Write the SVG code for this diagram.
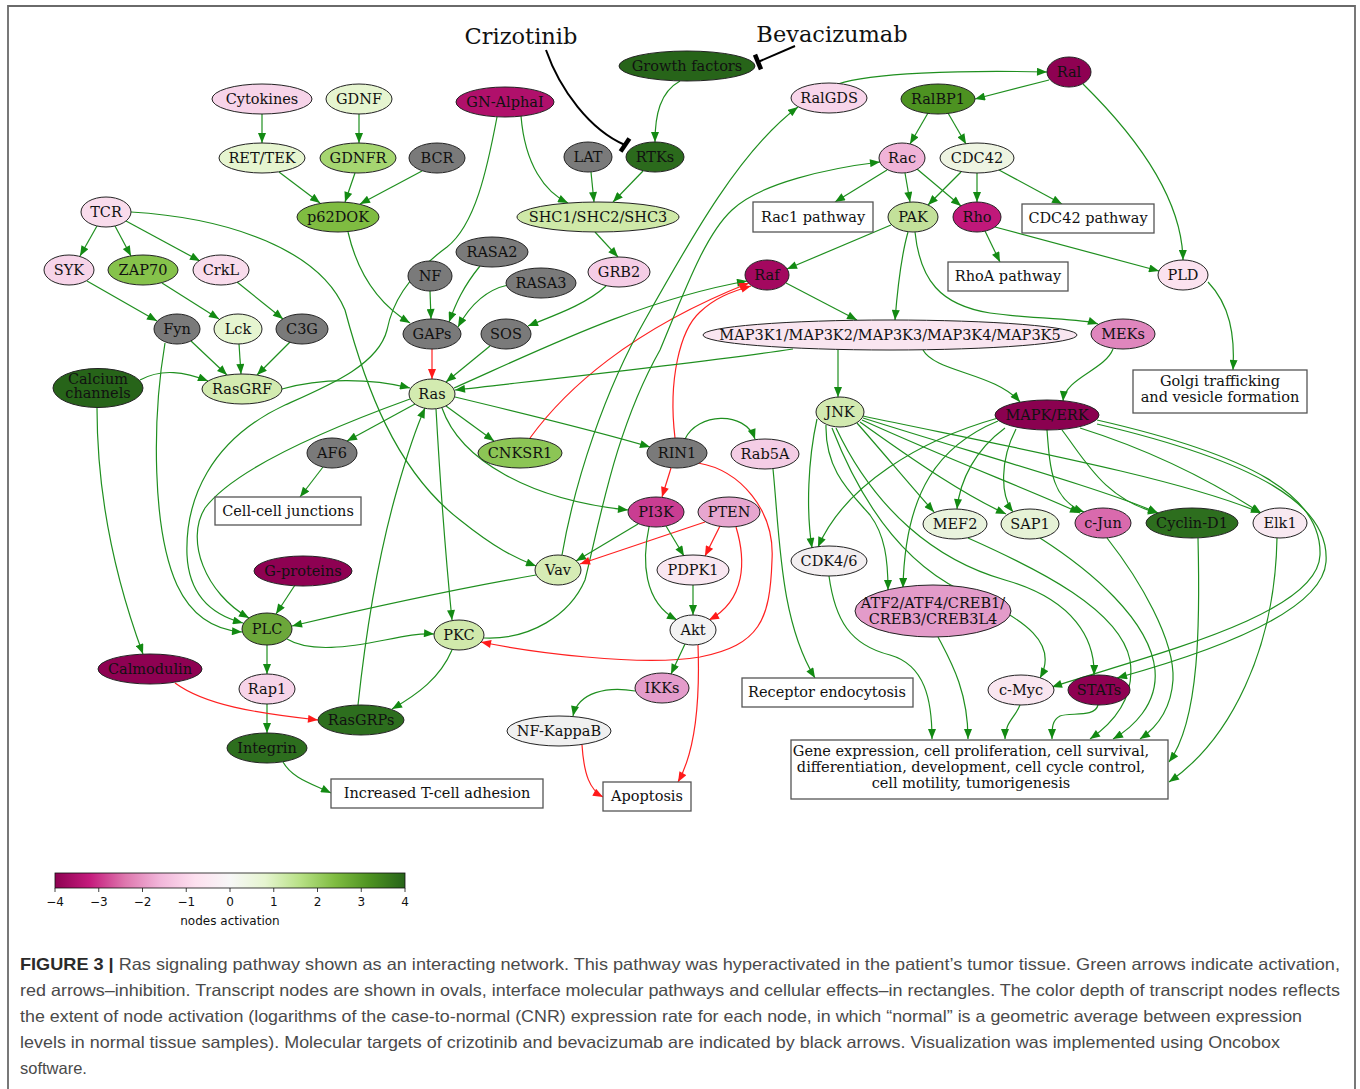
<svg xmlns="http://www.w3.org/2000/svg" width="1360" height="1089" viewBox="0 0 1360 1089">
<defs>
<marker id="ag" viewBox="0 0 10 8" refX="10" refY="4" markerWidth="11" markerHeight="8" markerUnits="userSpaceOnUse" orient="auto"><path d="M0,0 L10,4 L0,8 z" fill="#138a13"/></marker>
<marker id="ar" viewBox="0 0 10 8" refX="10" refY="4" markerWidth="11" markerHeight="8" markerUnits="userSpaceOnUse" orient="auto"><path d="M0,0 L10,4 L0,8 z" fill="#ff1a1a"/></marker>
<linearGradient id="piyg" x1="0" y1="0" x2="1" y2="0">
<stop offset="0" stop-color="#8e0152"/><stop offset="0.1" stop-color="#c51b7d"/><stop offset="0.2" stop-color="#de77ae"/><stop offset="0.3" stop-color="#f1b6da"/><stop offset="0.4" stop-color="#fde0ef"/><stop offset="0.5" stop-color="#f7f7f7"/><stop offset="0.6" stop-color="#e6f5d0"/><stop offset="0.7" stop-color="#b8e186"/><stop offset="0.8" stop-color="#7fbc41"/><stop offset="0.9" stop-color="#4d9221"/><stop offset="1" stop-color="#276419"/>
</linearGradient>
</defs>
<style>
.n ellipse{stroke:#222;stroke-width:1}
.n text,.b text{font-family:"DejaVu Serif",serif;font-size:14.5px;text-anchor:middle;fill:#111}
.b rect{fill:#fff;stroke:#555;stroke-width:1.3}
.g{fill:none;stroke:#1f8f1f;stroke-width:1.2;marker-end:url(#ag)}
.r{fill:none;stroke:#ff2020;stroke-width:1.2;marker-end:url(#ar)}
.k{fill:none;stroke:#000;stroke-width:2}
.kb{stroke:#000;stroke-width:4.5}
.drug{font-family:"DejaVu Serif",serif;font-size:22.5px;text-anchor:middle;fill:#111}
.cap{font-family:"Liberation Sans",Arial,sans-serif;font-size:16.5px;fill:#4a4a4a}
.tick{font-family:"DejaVu Sans",sans-serif;font-size:12px;text-anchor:middle;fill:#111}
</style>
<rect width="1360" height="1089" fill="#fff"/>
<path d="M8 1089 L8 6 L1355 6 L1355 1089" fill="none" stroke="#6a6a6a" stroke-width="1.8"/>

<g id="connectors">
<path class="g" d="M262 114 L262 143"/>
<path class="g" d="M359 114 L359 143"/>
<path class="g" d="M279 172 L320 203"/>
<path class="g" d="M355 173 L345 202"/>
<path class="g" d="M422 171 L360 204"/>
<path class="g" d="M680 81 C660 92 655 115 655 142"/>
<path class="g" d="M521 116 C525 165 545 192 568 203"/>
<path class="g" d="M591 172 L594 202"/>
<path class="g" d="M643 171 L613 202"/>
<path class="g" d="M595 232 L618 257"/>
<path class="g" d="M606 286 C585 305 555 315 528 326"/>
<path class="g" d="M497 117 C487 170 475 225 447 247 C405 278 392 305 387 330 C378 365 330 385 285 405 C210 440 185 500 187 555 C189 595 212 615 243 623"/>
<path class="g" d="M410 399 C330 428 235 468 205 508 C185 540 205 593 249 618"/>
<path class="g" d="M165 343 C152 420 152 530 177 585 C192 617 215 630 242 632"/>
<path class="g" d="M295 585 L276 614"/>
<path class="g" d="M536 575 C450 590 360 610 292 626"/>
<path class="g" d="M287 639 C310 653 350 647 385 640 C405 636 420 633 434 634"/>
<path class="g" d="M267 645 L267 674"/>
<path class="g" d="M267 704 L267 733"/>
<path class="r" d="M175 683 C205 705 255 713 318 720"/>
<path class="g" d="M97 408 C97 490 112 570 143 654"/>
<path class="g" d="M140 380 C162 368 185 372 208 381"/>
<path class="g" d="M191 341 L227 375"/>
<path class="g" d="M239 344 L241 374"/>
<path class="g" d="M290 342 L257 375"/>
<path class="g" d="M87 281 L157 321"/>
<path class="g" d="M162 283 L219 319"/>
<path class="g" d="M237 282 L283 319"/>
<path class="g" d="M97 226 L80 256"/>
<path class="g" d="M115 226 L131 256"/>
<path class="g" d="M126 221 L200 261"/>
<path class="g" d="M131 212 C230 218 320 250 345 310 C365 385 395 470 460 520 C495 548 515 558 536 566"/>
<path class="g" d="M282 389 C320 378 370 378 410 388"/>
<path class="r" d="M432 349 L432 379"/>
<path class="g" d="M430 291 L431 319"/>
<path class="g" d="M480 266 C463 287 456 303 449 322"/>
<path class="g" d="M508 285 C485 290 470 305 458 327"/>
<path class="g" d="M348 232 C358 275 380 305 410 323"/>
<path class="g" d="M490 346 L446 382"/>
<path class="g" d="M415 404 L347 441"/>
<path class="g" d="M446 406 L494 441"/>
<path class="g" d="M455 397 C530 415 600 432 650 447"/>
<path class="g" d="M442 408 C460 460 530 500 628 510"/>
<path class="g" d="M436 409 C440 480 446 560 452 620"/>
<path class="g" d="M358 705 C365 640 377 560 397 490 C407 455 416 428 425 408"/>
<path class="g" d="M452 650 C440 678 418 694 392 709"/>
<path class="g" d="M454 388 C540 350 640 300 747 281"/>
<path class="r" d="M530 438 C565 390 630 330 749 283"/>
<path class="r" d="M675 438 C668 380 680 330 700 312 C715 298 730 292 751 286"/>
<path class="g" d="M562 555 C575 480 605 390 645 320 C690 240 740 150 798 107"/>
<path class="g" d="M484 638 C530 640 570 615 585 580 C600 520 615 430 660 350 C685 290 705 235 732 210 C760 183 830 168 880 162"/>
<path class="g" d="M793 349 C700 363 560 378 455 390"/>
<path class="g" d="M786 283 L857 320"/>
<path class="g" d="M908 232 C900 260 897 295 895 320"/>
<path class="g" d="M891 225 L787 269"/>
<path class="g" d="M915 232 C920 280 940 305 990 313 C1040 320 1080 318 1098 324"/>
<path class="g" d="M838 350 L838 397"/>
<path class="g" d="M923 350 C935 372 995 373 1020 402"/>
<path class="g" d="M1113 349 C1105 370 1065 378 1063 401"/>
<path class="g" d="M1083 84 C1140 140 1182 200 1183 260"/>
<path class="g" d="M838 84 C870 73 960 70 1047 72"/>
<path class="g" d="M1049 80 L975 99"/>
<path class="g" d="M928 113 L910 144"/>
<path class="g" d="M948 113 L966 144"/>
<path class="g" d="M887 170 L835 202"/>
<path class="g" d="M905 173 L910 202"/>
<path class="g" d="M917 169 L961 206"/>
<path class="g" d="M961 172 L928 205"/>
<path class="g" d="M977 173 L977 202"/>
<path class="g" d="M999 170 L1062 204"/>
<path class="g" d="M985 231 L1000 262"/>
<path class="g" d="M995 227 L1159 271"/>
<path class="g" d="M1208 282 C1230 305 1235 335 1233 370"/>
<path class="r" d="M671 468 L662 497"/>
<path class="g" d="M685 439 C697 413 745 410 755 439"/>
<path class="r" d="M698 463 C740 470 775 510 772 560 C770 620 760 645 700 657 C640 667 530 652 481 642"/>
<path class="g" d="M773 469 C780 540 780 620 815 678"/>
<path class="g" d="M638 524 L576 561"/>
<path class="r" d="M705 522 L580 564"/>
<path class="g" d="M666 526 L684 556"/>
<path class="r" d="M720 526 L705 556"/>
<path class="g" d="M649 527 C642 560 643 602 677 620"/>
<path class="r" d="M736 527 C746 560 746 600 709 620"/>
<path class="g" d="M693 585 L693 615"/>
<path class="g" d="M685 644 L671 674"/>
<path class="r" d="M698 645 C700 700 695 752 678 782"/>
<path class="g" d="M635 691 C608 686 578 692 573 716"/>
<path class="r" d="M582 745 C584 775 590 790 603 797"/>
<path class="g" d="M283 762 C292 778 310 783 331 793"/>
<path class="g" d="M323 467 L300 497"/>
<path class="g" d="M817 419 C808 460 806 510 812 548"/>
<path class="g" d="M998 418 C920 440 845 485 818 547"/>
<path class="g" d="M826 425 C825 470 850 492 870 515 C885 535 888 560 888 590"/>
<path class="g" d="M998 421 C940 445 905 490 903 588"/>
<path class="g" d="M857 423 C885 455 910 485 934 512"/>
<path class="g" d="M1005 428 C975 450 960 480 957 509"/>
<path class="g" d="M860 422 C920 465 965 495 1006 514"/>
<path class="g" d="M1016 429 C1000 460 1000 495 1013 512"/>
<path class="g" d="M862 420 C950 460 1030 490 1080 513"/>
<path class="g" d="M1047 430 C1050 470 1052 500 1084 512"/>
<path class="g" d="M863 418 C980 455 1100 488 1158 513"/>
<path class="g" d="M1062 430 C1085 460 1105 500 1158 513"/>
<path class="g" d="M863 416 C1000 445 1180 478 1261 513"/>
<path class="g" d="M1080 428 C1150 450 1210 480 1261 513"/>
<path class="g" d="M1097 420 C1250 455 1322 495 1320 555 C1318 615 1150 655 1052 687"/>
<path class="g" d="M1097 424 C1258 462 1330 505 1326 562 C1322 615 1200 655 1117 678"/>
<path class="g" d="M832 428 C860 500 900 560 960 590 C1030 620 1058 645 1040 678"/>
<path class="g" d="M836 428 C875 510 935 560 1005 580 C1075 600 1095 640 1094 675"/>
<path class="g" d="M829 576 C835 620 850 645 890 655 C925 665 932 700 932 739"/>
<path class="g" d="M938 637 C950 660 968 690 968 739"/>
<path class="g" d="M1020 705 C1015 718 1005 722 1005 739"/>
<path class="g" d="M1098 705 C1095 718 1070 712 1060 716 C1052 720 1052 728 1052 739"/>
<path class="g" d="M968 538 C1040 570 1120 610 1130 660 C1136 700 1110 725 1090 739"/>
<path class="g" d="M1040 538 C1090 570 1150 620 1155 670 C1158 705 1132 728 1113 739"/>
<path class="g" d="M1107 538 C1140 580 1175 640 1173 680 C1171 710 1156 728 1140 739"/>
<path class="g" d="M1198 538 C1200 620 1200 720 1169 762"/>
<path class="g" d="M1277 538 C1275 650 1230 740 1169 782"/>
<path class="k" d="M546 50 C560 90 590 130 625 145"/>
<line class="kb" x1="629.4" y1="138.4" x2="620.6" y2="151.6"/>
<path class="k" d="M795 46 L758 62"/>
<line class="kb" x1="761" y1="69.4" x2="755" y2="54.6"/>
</g>

<g id="drugs">
<text class="drug" x="521" y="44">Crizotinib</text>
<text class="drug" x="832" y="42">Bevacizumab</text>
</g>

<g id="n-cytokines" class="n"><ellipse cx="262" cy="99" rx="50" ry="15" fill="#f7d4e9"/><text x="262" y="104">Cytokines</text></g>
<g id="n-gdnf" class="n"><ellipse cx="359" cy="99" rx="33" ry="15" fill="#e6f5d0"/><text x="359" y="104">GDNF</text></g>
<g id="n-rettek" class="n"><ellipse cx="262" cy="158" rx="43" ry="15" fill="#e6f5d0"/><text x="262" y="163">RET/TEK</text></g>
<g id="n-gdnfr" class="n"><ellipse cx="358" cy="158" rx="38" ry="15" fill="#a6d671"/><text x="358" y="163">GDNFR</text></g>
<g id="n-bcr" class="n"><ellipse cx="437" cy="158" rx="28" ry="15" fill="#7a7a7a"/><text x="437" y="163">BCR</text></g>
<g id="n-p62dok" class="n"><ellipse cx="338" cy="217" rx="41" ry="15" fill="#7fbc41"/><text x="338" y="222">p62DOK</text></g>
<g id="n-tcr" class="n"><ellipse cx="106" cy="212" rx="25" ry="15" fill="#f9dcec"/><text x="106" y="217">TCR</text></g>
<g id="n-syk" class="n"><ellipse cx="69" cy="270" rx="25" ry="15" fill="#f7d4e9"/><text x="69" y="275">SYK</text></g>
<g id="n-zap70" class="n"><ellipse cx="143" cy="270" rx="35" ry="15" fill="#86c24b"/><text x="143" y="275">ZAP70</text></g>
<g id="n-crkl" class="n"><ellipse cx="221" cy="270" rx="28" ry="15" fill="#f9dcec"/><text x="221" y="275">CrkL</text></g>
<g id="n-fyn" class="n"><ellipse cx="177" cy="329" rx="23" ry="15" fill="#7a7a7a"/><text x="177" y="334">Fyn</text></g>
<g id="n-lck" class="n"><ellipse cx="238" cy="329" rx="24" ry="15" fill="#e6f5d0"/><text x="238" y="334">Lck</text></g>
<g id="n-c3g" class="n"><ellipse cx="302" cy="329" rx="26" ry="15" fill="#7a7a7a"/><text x="302" y="334">C3G</text></g>
<g id="n-calcium" class="n"><ellipse cx="98" cy="388" rx="45" ry="19.5" fill="#276419"/><text x="98" y="384">Calcium</text><text x="98" y="398">channels</text></g>
<g id="n-rasgrf" class="n"><ellipse cx="242" cy="389" rx="40" ry="15" fill="#d3ebb0"/><text x="242" y="394">RasGRF</text></g>
<g id="n-nf" class="n"><ellipse cx="430" cy="276" rx="22" ry="15" fill="#7a7a7a"/><text x="430" y="281">NF</text></g>
<g id="n-gaps" class="n"><ellipse cx="432" cy="334" rx="29" ry="15" fill="#7a7a7a"/><text x="432" y="339">GAPs</text></g>
<g id="n-ras" class="n"><ellipse cx="432" cy="394" rx="23" ry="15" fill="#d3ebb0"/><text x="432" y="399">Ras</text></g>
<g id="n-af6" class="n"><ellipse cx="332" cy="453" rx="25" ry="15" fill="#7a7a7a"/><text x="332" y="458">AF6</text></g>
<g id="n-ccj" class="b"><rect x="215" y="497" width="146" height="28"/><text x="288" y="516">Cell-cell junctions</text></g>
<g id="n-gproteins" class="n"><ellipse cx="303" cy="571" rx="49" ry="15" fill="#8e0152"/><text x="303" y="576">G-proteins</text></g>
<g id="n-gnalphai" class="n"><ellipse cx="505" cy="102" rx="49" ry="15" fill="#b0106b"/><text x="505" y="107">GN-AlphaI</text></g>
<g id="n-growth" class="n"><ellipse cx="687" cy="66" rx="68" ry="15" fill="#276419"/><text x="687" y="71">Growth factors</text></g>
<g id="n-lat" class="n"><ellipse cx="588" cy="157" rx="24" ry="15" fill="#7a7a7a"/><text x="588" y="162">LAT</text></g>
<g id="n-rtks" class="n"><ellipse cx="655" cy="157" rx="29" ry="15" fill="#2b6a1c"/><text x="655" y="162">RTKs</text></g>
<g id="n-shc" class="n"><ellipse cx="598" cy="217" rx="81" ry="15" fill="#cfe9a8"/><text x="598" y="222">SHC1/SHC2/SHC3</text></g>
<g id="n-rasa2" class="n"><ellipse cx="492" cy="252" rx="36" ry="15" fill="#7a7a7a"/><text x="492" y="257">RASA2</text></g>
<g id="n-rasa3" class="n"><ellipse cx="541" cy="283" rx="35" ry="15" fill="#7a7a7a"/><text x="541" y="288">RASA3</text></g>
<g id="n-grb2" class="n"><ellipse cx="619" cy="272" rx="31" ry="15" fill="#f5cde6"/><text x="619" y="277">GRB2</text></g>
<g id="n-sos" class="n"><ellipse cx="506" cy="334" rx="25" ry="15" fill="#7a7a7a"/><text x="506" y="339">SOS</text></g>
<g id="n-ralgds" class="n"><ellipse cx="829" cy="98" rx="38" ry="15" fill="#f8d5ea"/><text x="829" y="103">RalGDS</text></g>
<g id="n-rac1path" class="b"><rect x="753" y="202" width="120" height="30"/><text x="813" y="222">Rac1 pathway</text></g>
<g id="n-raf" class="n"><ellipse cx="767" cy="275" rx="22" ry="15" fill="#a3085f"/><text x="767" y="280">Raf</text></g>
<g id="n-ral" class="n"><ellipse cx="1069" cy="72" rx="22" ry="15" fill="#8e0152"/><text x="1069" y="77">Ral</text></g>
<g id="n-ralbp1" class="n"><ellipse cx="938" cy="99" rx="37" ry="15" fill="#4d9221"/><text x="938" y="104">RalBP1</text></g>
<g id="n-rac" class="n"><ellipse cx="902" cy="158" rx="23" ry="15" fill="#f0b3d8"/><text x="902" y="163">Rac</text></g>
<g id="n-cdc42" class="n"><ellipse cx="977" cy="158" rx="37" ry="15" fill="#eef4e2"/><text x="977" y="163">CDC42</text></g>
<g id="n-pak" class="n"><ellipse cx="913" cy="217" rx="25" ry="15" fill="#c3e19a"/><text x="913" y="222">PAK</text></g>
<g id="n-rho" class="n"><ellipse cx="977" cy="217" rx="24" ry="15" fill="#c0187a"/><text x="977" y="222">Rho</text></g>
<g id="n-cdc42path" class="b"><rect x="1022" y="204" width="132" height="29"/><text x="1088" y="223">CDC42 pathway</text></g>
<g id="n-rhoapath" class="b"><rect x="948" y="262" width="120" height="29"/><text x="1008" y="281">RhoA pathway</text></g>
<g id="n-pld" class="n"><ellipse cx="1183" cy="275" rx="25" ry="15" fill="#fbe2ef"/><text x="1183" y="280">PLD</text></g>
<g id="n-map3k" class="n"><ellipse cx="890" cy="335" rx="187" ry="15" fill="#f9e5f0"/><text x="890" y="340">MAP3K1/MAP3K2/MAP3K3/MAP3K4/MAP3K5</text></g>
<g id="n-meks" class="n"><ellipse cx="1123" cy="334" rx="32" ry="15" fill="#df86bd"/><text x="1123" y="339">MEKs</text></g>
<g id="n-golgi" class="b"><rect x="1133" y="370" width="174" height="43"/><text x="1220" y="386">Golgi trafficking</text><text x="1220" y="402">and vesicle formation</text></g>
<g id="n-mapk" class="n"><ellipse cx="1047" cy="415" rx="52" ry="15" fill="#8a0150"/><text x="1047" y="420">MAPK/ERK</text></g>
<g id="n-jnk" class="n"><ellipse cx="840" cy="412" rx="24" ry="15" fill="#d2eab0"/><text x="840" y="417">JNK</text></g>
<g id="n-cnksr1" class="n"><ellipse cx="520" cy="453" rx="42" ry="15" fill="#8cc555"/><text x="520" y="458">CNKSR1</text></g>
<g id="n-rin1" class="n"><ellipse cx="677" cy="453" rx="30" ry="15" fill="#7a7a7a"/><text x="677" y="458">RIN1</text></g>
<g id="n-rab5a" class="n"><ellipse cx="765" cy="454" rx="34" ry="15" fill="#f4cde5"/><text x="765" y="459">Rab5A</text></g>
<g id="n-pi3k" class="n"><ellipse cx="656" cy="512" rx="28" ry="15" fill="#c93d92"/><text x="656" y="517">PI3K</text></g>
<g id="n-pten" class="n"><ellipse cx="729" cy="512" rx="31" ry="15" fill="#e7a6cf"/><text x="729" y="517">PTEN</text></g>
<g id="n-vav" class="n"><ellipse cx="558" cy="570" rx="23" ry="15" fill="#d6ecb5"/><text x="558" y="575">Vav</text></g>
<g id="n-pdpk1" class="n"><ellipse cx="693" cy="570" rx="36" ry="15" fill="#f9e7f1"/><text x="693" y="575">PDPK1</text></g>
<g id="n-cdk46" class="n"><ellipse cx="829" cy="561" rx="38" ry="15" fill="#f3eff1"/><text x="829" y="566">CDK4/6</text></g>
<g id="n-mef2" class="n"><ellipse cx="955" cy="524" rx="32" ry="15" fill="#e9f3dd"/><text x="955" y="529">MEF2</text></g>
<g id="n-sap1" class="n"><ellipse cx="1030" cy="524" rx="29" ry="15" fill="#e6f2d6"/><text x="1030" y="529">SAP1</text></g>
<g id="n-cjun" class="n"><ellipse cx="1103" cy="523" rx="28" ry="15" fill="#d96aad"/><text x="1103" y="528">c-Jun</text></g>
<g id="n-cyclind1" class="n"><ellipse cx="1192" cy="523" rx="46" ry="15" fill="#2d6e1e"/><text x="1192" y="528">Cyclin-D1</text></g>
<g id="n-elk1" class="n"><ellipse cx="1280" cy="523" rx="27" ry="15" fill="#f8e9f1"/><text x="1280" y="528">Elk1</text></g>
<g id="n-atf2" class="n"><ellipse cx="933" cy="611" rx="78" ry="26" fill="#e39bc9"/><text x="933" y="608">ATF2/ATF4/CREB1/</text><text x="933" y="624">CREB3/CREB3L4</text></g>
<g id="n-plc" class="n"><ellipse cx="267" cy="629" rx="25" ry="16" fill="#6ca73a"/><text x="267" y="634">PLC</text></g>
<g id="n-pkc" class="n"><ellipse cx="459" cy="635" rx="25" ry="15" fill="#d0e9ab"/><text x="459" y="640">PKC</text></g>
<g id="n-akt" class="n"><ellipse cx="693" cy="630" rx="23" ry="15" fill="#f3f3f3"/><text x="693" y="635">Akt</text></g>
<g id="n-calmodulin" class="n"><ellipse cx="150" cy="669" rx="52" ry="15" fill="#8e0152"/><text x="150" y="674">Calmodulin</text></g>
<g id="n-rap1" class="n"><ellipse cx="267" cy="689" rx="28" ry="15" fill="#f7d4e9"/><text x="267" y="694">Rap1</text></g>
<g id="n-rasgrps" class="n"><ellipse cx="361" cy="720" rx="43" ry="15" fill="#2d6e1e"/><text x="361" y="725">RasGRPs</text></g>
<g id="n-integrin" class="n"><ellipse cx="267" cy="748" rx="40" ry="15" fill="#2d6e1e"/><text x="267" y="753">Integrin</text></g>
<g id="n-tcell" class="b"><rect x="331" y="779" width="212" height="29"/><text x="437" y="798">Increased T-cell adhesion</text></g>
<g id="n-ikks" class="n"><ellipse cx="662" cy="688" rx="27" ry="15" fill="#e49ccb"/><text x="662" y="693">IKKs</text></g>
<g id="n-nfkb" class="n"><ellipse cx="559" cy="731" rx="52" ry="15" fill="#f0f0f0"/><text x="559" y="736">NF-KappaB</text></g>
<g id="n-apoptosis" class="b"><rect x="603" y="782" width="88" height="29"/><text x="647" y="801">Apoptosis</text></g>
<g id="n-recept" class="b"><rect x="742" y="678" width="171" height="29"/><text x="827" y="697">Receptor endocytosis</text></g>
<g id="n-gene" class="b"><rect x="791" y="740" width="377" height="59"/><text x="971" y="756">Gene expression, cell proliferation, cell survival,</text><text x="971" y="772">differentiation, development, cell cycle control,</text><text x="971" y="788">cell motility, tumorigenesis</text></g>
<g id="n-cmyc" class="n"><ellipse cx="1021" cy="690" rx="33" ry="15" fill="#f9e6f0"/><text x="1021" y="695">c-Myc</text></g>
<g id="n-stats" class="n"><ellipse cx="1099" cy="690" rx="31" ry="15" fill="#8e0152"/><text x="1099" y="695">STATs</text></g>

<g id="colorbar">
<rect x="55" y="873" width="350" height="15" fill="url(#piyg)" stroke="#111" stroke-width="0.8"/>
<path d="M55 888v4M98.75 888v4M142.5 888v4M186.25 888v4M230 888v4M273.75 888v4M317.5 888v4M361.25 888v4M405 888v4" stroke="#111" stroke-width="0.8"/>
<text class="tick" x="55" y="906">−4</text><text class="tick" x="98.75" y="906">−3</text><text class="tick" x="142.5" y="906">−2</text><text class="tick" x="186.25" y="906">−1</text><text class="tick" x="230" y="906">0</text><text class="tick" x="273.75" y="906">1</text><text class="tick" x="317.5" y="906">2</text><text class="tick" x="361.25" y="906">3</text><text class="tick" x="405" y="906">4</text>
<text class="tick" x="230" y="925">nodes activation</text>
</g>

<g id="caption">
<text class="cap" x="20" y="970" textLength="1320" lengthAdjust="spacingAndGlyphs"><tspan font-weight="bold" fill="#2a2a2a">FIGURE 3 |</tspan> Ras signaling pathway shown as an interacting network. This pathway was hyperactivated in the patient’s tumor tissue. Green arrows indicate activation,</text>
<text class="cap" x="20" y="996" textLength="1320" lengthAdjust="spacingAndGlyphs">red arrows–inhibition. Transcript nodes are shown in ovals, interface molecular pathways and cellular effects–in rectangles. The color depth of transcript nodes reflects</text>
<text class="cap" x="20" y="1022" textLength="1282" lengthAdjust="spacingAndGlyphs">the extent of node activation (logarithms of the case-to-normal (CNR) expression rate for each node, in which “normal” is a geometric average between expression</text>
<text class="cap" x="20" y="1048" textLength="1260" lengthAdjust="spacingAndGlyphs">levels in normal tissue samples). Molecular targets of crizotinib and bevacizumab are indicated by black arrows. Visualization was implemented using Oncobox</text>
<text class="cap" x="20" y="1074">software.</text>
</g>
</svg>
